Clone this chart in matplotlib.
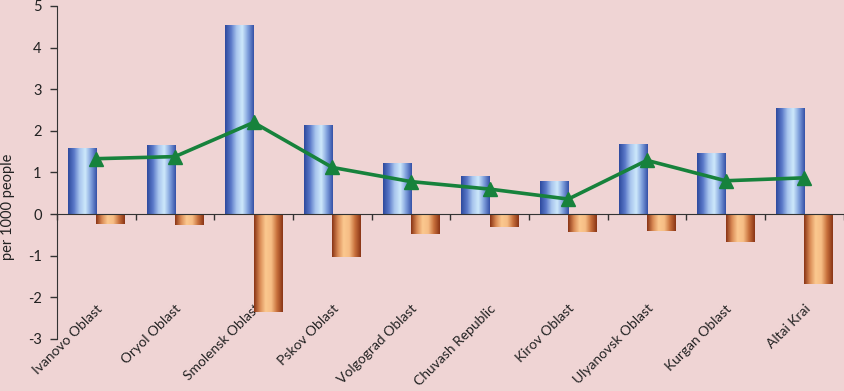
import numpy as np
import matplotlib
matplotlib.use("Agg")
import matplotlib.pyplot as plt
from matplotlib.colors import LinearSegmentedColormap

# =======================
# Data (per 1000 people)
# =======================
regions = ["Ivanovo Oblast", "Oryol Oblast", "Smolensk Oblast", "Pskov Oblast",
           "Volgograd Oblast", "Chuvash Republic", "Kirov Oblast",
           "Ulyanovsk Oblast", "Kurgan Oblast", "Altai Krai"]
positive = [1.59, 1.67, 4.55, 2.15, 1.22, 0.91, 0.79, 1.69, 1.46, 2.55]
negative = [-0.25, -0.27, -2.35, -1.04, -0.48, -0.31, -0.43, -0.40, -0.68, -1.69]
line_vals = [1.33, 1.38, 2.20, 1.12, 0.78, 0.60, 0.36, 1.29, 0.80, 0.87]

BG = "#efd4d4"
plt.rcParams['font.family'] = ['Lato', 'DejaVu Sans']
plt.rcParams['axes.unicode_minus'] = False

blue_cmap = LinearSegmentedColormap.from_list(
    "blue_cyl", ["#3652a8", "#7f9fdc", "#cde8fb", "#a9c6ee", "#5a78c8", "#2e4a9e"])
orange_cmap = LinearSegmentedColormap.from_list(
    "orange_cyl", ["#8a3516", "#d98a55", "#fbc88f", "#f6bd85", "#c8703c", "#8a3516"])


def shade_bars(ax, bars, cmap):
    grad = np.linspace(0, 1, 64).reshape(1, -1)
    for b in bars:
        x0, w = b.get_x(), b.get_width()
        y0, h = b.get_y(), b.get_height()
        im = ax.imshow(grad, cmap=cmap, aspect="auto", zorder=2,
                       extent=[x0, x0 + w, min(y0, y0 + h), max(y0, y0 + h)])
        im.set_clip_path(b)
        b.set_facecolor("none")


fig = plt.figure(figsize=(8.44, 3.91), dpi=100)
fig.patch.set_facecolor(BG)
ax = fig.add_axes([0.0675, 0.133, 0.932, 0.852])
ax.set_facecolor(BG)

x = np.arange(len(regions))
w = 0.36
b1 = ax.bar(x, positive, width=-w, align="edge", edgecolor="none", zorder=2)
b2 = ax.bar(x, negative, width=w, align="edge", edgecolor="none", zorder=2)
shade_bars(ax, b1, blue_cmap)
shade_bars(ax, b2, orange_cmap)

ax.plot(x, line_vals, color="#17823c", linewidth=2.6, marker="^",
        markersize=10, zorder=4)

ax.set_xlim(-0.5, len(regions) - 0.5)
ax.set_ylim(-3, 5)
ax.set_yticks(range(-3, 6))
ax.tick_params(axis="y", labelsize=10.5, length=5, width=1, color="#333333",
               labelcolor="#222222", pad=6)

# x axis line at zero with ticks between categories
ax.spines["bottom"].set_position(("data", 0))
ax.spines["bottom"].set_color("#333333")
ax.spines["left"].set_color("#333333")
ax.spines["top"].set_visible(False)
ax.spines["right"].set_visible(False)
ax.set_xticks(np.arange(len(regions) + 1) - 0.5)
ax.set_xticklabels([])
ax.tick_params(axis="x", length=4, width=1, color="#333333")

# category labels on a secondary axis near the bottom
sec = ax.secondary_xaxis(-2.12, transform=ax.transData)
sec.set_xticks(x)
sec.set_xticklabels(regions, rotation=45, ha="right", rotation_mode="anchor",
                    fontsize=10, color="#222222")
sec.tick_params(length=0, pad=0)
sec.spines["bottom"].set_visible(False)

ax.set_ylabel("per 1000 people", fontsize=10.5, color="#222222")
ax.yaxis.set_label_coords(-0.053, 0.396)

fig.savefig("out.png", dpi=100, facecolor=BG)
